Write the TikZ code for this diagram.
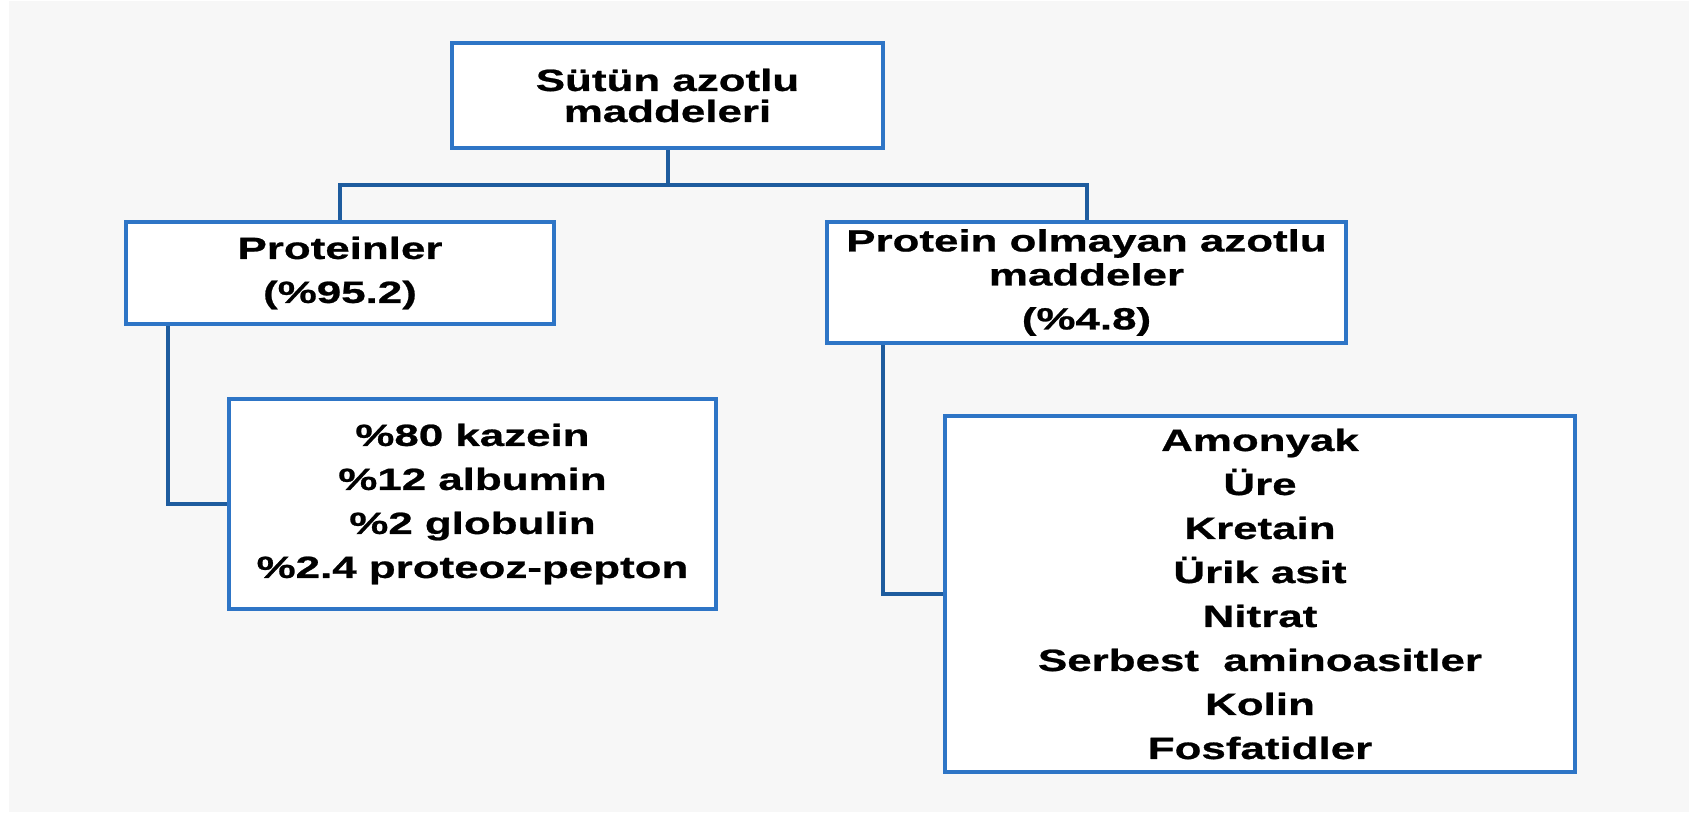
\documentclass[tikz,border=0pt]{standalone}
\usepackage{fontspec}
\newfontfamily\boxfont[FakeStretch=1.43,FakeBold=0.8]{Liberation Sans}
\definecolor{boxblue}{RGB}{46,117,198}
\definecolor{connblue}{RGB}{30,92,158}
\definecolor{bggray}{RGB}{247,247,247}
\tikzset{
  boxnode/.style={draw=boxblue, line width=4pt, fill=white, inner sep=0pt, align=center,
    font=\boxfont\bfseries\fontsize{30.7}{44}\selectfont},
  conn/.style={draw=connblue, line width=4pt}
}
\begin{document}
\begin{tikzpicture}[x=1pt,y=-1pt]
\fill[white] (0,0) rectangle (1689,812);
\fill[bggray] (9,1) rectangle (1689,812);
\useasboundingbox (0,0) rectangle (1689,812);
\node[boxnode, minimum width=431pt, minimum height=105pt] (top) at (667.5,95.5)
  {Sütün azotlu\\[-13pt]maddeleri};
\node[boxnode, minimum width=428pt, minimum height=102pt] (prot) at (340,273)
  {Proteinler\\(\%95.2)};
\node[boxnode, minimum width=519pt, minimum height=121pt] (po) at (1086.5,282.5)
  {Protein olmayan azotlu\\[-10pt]maddeler\\(\%4.8)};
\node[boxnode, minimum width=487pt, minimum height=210pt] (sub) at (472.5,504)
  {\%80 kazein\\\%12 albumin\\\%2 globulin\\\%2.4 proteoz-pepton};
\node[boxnode, minimum width=630pt, minimum height=356pt] (npn) at (1260,594)
  {Amonyak\\Üre\\Kretain\\Ürik asit\\Nitrat\\Serbest\ \ aminoasitler\\Kolin\\Fosfatidler};
\coordinate (bus) at (0,185);
\coordinate (lx) at (168,0);
\coordinate (rx) at (883,0);
\draw[conn] (top.south) -- (top.south |- bus);
\draw[conn] (prot.north) -- (prot.north |- bus) -- (po.north |- bus) -- (po.north);
\draw[conn] (prot.south -| lx) |- (sub.west);
\draw[conn] (po.south -| rx) |- (npn.west);
\end{tikzpicture}
\end{document}
